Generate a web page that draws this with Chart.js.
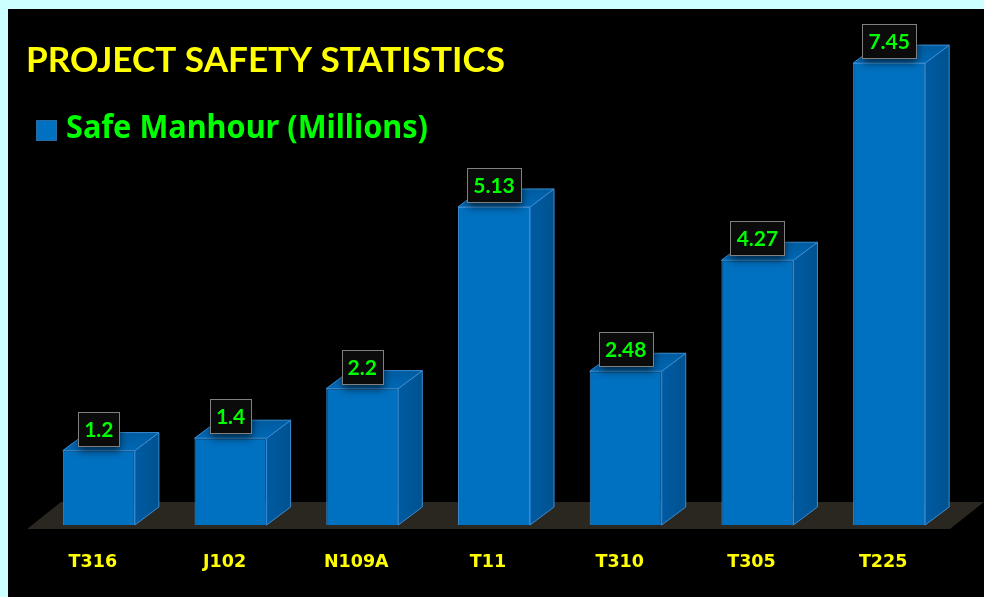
<!DOCTYPE html>
<html>
<head>
<meta charset="utf-8">
<script src="https://cdn.jsdelivr.net/npm/chart.js@4.4.1/dist/chart.umd.min.js"></script>
<style>
  html, body { margin: 0; padding: 0; background: #ccffff; }
  canvas { display: block; }
</style>
</head>
<body>
<canvas id="c" width="984" height="597"></canvas>
<script>
const chartTitle = 'PROJECT SAFETY STATISTICS';
const seriesLabel = 'Safe Manhour (Millions)';
const categories = ['T316', 'J102', 'N109A', 'T11', 'T310', 'T305', 'T225'];
const safeManhours = [1.2, 1.4, 2.2, 5.13, 2.48, 4.27, 7.45];
const valueLabels = ['1.2', '1.4', '2.2', '5.13', '2.48', '4.27', '7.45'];

const FRONT = '#0070c0';
const EDGE = '#3a8dd2';

function fitText(ctx, text, x, y, font, targetWidth) {
  ctx.font = font;
  const w = ctx.measureText(text).width;
  const s = targetWidth / w;
  ctx.save();
  ctx.translate(x, y);
  ctx.scale(s, 1);
  ctx.fillText(text, 0, 0);
  ctx.restore();
}

const threeD = {
  id: 'threeD',
  beforeDraw(chart) {
    const ctx = chart.ctx;
    ctx.save();
    ctx.fillStyle = '#ccffff';
    ctx.fillRect(0, 0, chart.width, chart.height);
    ctx.fillStyle = '#000000';
    ctx.fillRect(8, 9, chart.width - 8, chart.height - 9);
    ctx.restore();
  },
  beforeDatasetsDraw(chart) {
    const ctx = chart.ctx;
    const a = chart.chartArea;
    const y0 = chart.scales.y.getPixelForValue(0);
    const fl = a.left - 6, fr = a.right - 5, fy = y0 + 4;
    const ddx = 34, ddy = 27;
    ctx.save();
    ctx.fillStyle = '#29271f';
    ctx.beginPath();
    ctx.moveTo(fl, fy);
    ctx.lineTo(fr, fy);
    ctx.lineTo(fr + ddx, fy - ddy);
    ctx.lineTo(fl + ddx, fy - ddy);
    ctx.closePath();
    ctx.fill();
    ctx.restore();
  },
  afterDatasetsDraw(chart) {
    const ctx = chart.ctx;
    const meta = chart.getDatasetMeta(0);
    const dx = 24, dy = 18;
    ctx.save();
    meta.data.forEach((bar, i) => {
      const p = bar.getProps(['x', 'y', 'base', 'width'], true);
      const l = p.x - p.width / 2, r = p.x + p.width / 2, t = p.y, b = p.base;
      ctx.beginPath();
      ctx.moveTo(r, t);
      ctx.lineTo(r + dx, t - dy);
      ctx.lineTo(r + dx, b - dy);
      ctx.lineTo(r, b);
      ctx.closePath();
      const sg = ctx.createLinearGradient(r, 0, r + dx, 0);
      sg.addColorStop(0, '#005ba3');
      sg.addColorStop(1, '#00528f');
      ctx.fillStyle = sg;
      ctx.fill();
      ctx.strokeStyle = EDGE;
      ctx.lineWidth = 1;
      ctx.stroke();
      ctx.beginPath();
      ctx.moveTo(l, t);
      ctx.lineTo(l + dx, t - dy);
      ctx.lineTo(r + dx, t - dy);
      ctx.lineTo(r, t);
      ctx.closePath();
      const tg = ctx.createLinearGradient(0, t - dy, 0, t);
      tg.addColorStop(0, '#005b9f');
      tg.addColorStop(1, '#0068b5');
      ctx.fillStyle = tg;
      ctx.fill();
      ctx.stroke();
    });
    ctx.font = 'bold 21px Lato';
    ctx.textAlign = 'center';
    ctx.textBaseline = 'middle';
    meta.data.forEach((bar, i) => {
      const p = bar.getProps(['x', 'y'], true);
      const txt = valueLabels[i];
      const w = Math.round(ctx.measureText(txt).width) + 12;
      const h = 34;
      const bx = Math.round(p.x - w / 2) + 0.5;
      const by = Math.round(p.y - 5 - h) + 0.5;
      ctx.save();
      ctx.shadowColor = 'rgba(0,0,0,0.6)';
      ctx.shadowBlur = 8;
      ctx.shadowOffsetY = 4;
      ctx.fillStyle = '#0b0b0b';
      ctx.fillRect(bx, by, w, h);
      ctx.restore();
      ctx.strokeStyle = '#808080';
      ctx.lineWidth = 1;
      ctx.strokeRect(bx, by, w, h);
      ctx.fillStyle = '#00ff00';
      ctx.fillText(txt, p.x, by + h / 2 + 1);
    });
    ctx.restore();
  },
  afterDraw(chart) {
    const ctx = chart.ctx;
    ctx.save();
    ctx.textAlign = 'left';
    ctx.textBaseline = 'alphabetic';
    ctx.fillStyle = '#ffff00';
    fitText(ctx, chartTitle, 26, 72, 'bold 35px Lato', 479);
    const ds = chart.data.datasets[0];
    ctx.fillStyle = ds.backgroundColor;
    ctx.fillRect(36, 120, 21, 21);
    ctx.strokeStyle = '#2a6aa0';
    ctx.lineWidth = 1;
    ctx.strokeRect(36.5, 120.5, 20, 20);
    ctx.fillStyle = '#00ff00';
    fitText(ctx, ds.label, 66, 138, 'bold 32px "Noto Sans"', 362);
    ctx.restore();
  }
};

new Chart(document.getElementById('c'), {
  type: 'bar',
  data: {
    labels: categories,
    datasets: [{
      label: seriesLabel,
      data: safeManhours,
      backgroundColor: FRONT,
      borderColor: EDGE,
      borderWidth: 1,
      categoryPercentage: 1,
      barPercentage: 0.547
    }]
  },
  options: {
    responsive: false,
    animation: false,
    devicePixelRatio: 1,
    layout: { padding: { left: 33, right: 29, top: 29, bottom: 24 } },
    plugins: {
      legend: { display: false },
      title: { display: false },
      tooltip: { enabled: false }
    },
    scales: {
      y: { display: false, min: 0, max: 8 },
      x: {
        grid: { display: false, drawTicks: false },
        border: { display: false },
        ticks: {
          color: '#ffff00',
          font: { family: 'DejaVu Sans', weight: 'bold', size: 17.5 },
          padding: 27,
          labelOffset: -6,
          maxRotation: 0,
          autoSkip: false
        },
        afterFit(scale) { scale.height = 48; }
      }
    }
  },
  plugins: [threeD]
});
</script>
</body>
</html>
